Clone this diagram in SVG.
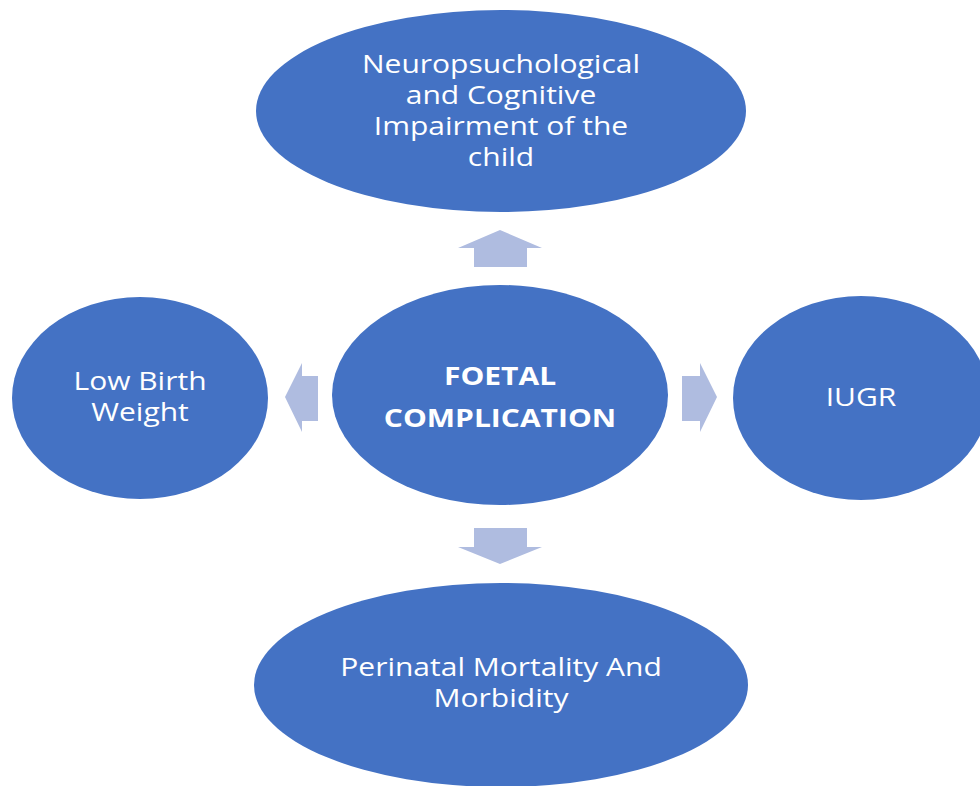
<svg xmlns="http://www.w3.org/2000/svg" width="980" height="786" viewBox="0 0 980 786">
<style>
.node{fill:#4472C4;}
.arrow{fill:#AFBCE0;}
text{font-family:"Open Sans","Liberation Sans",sans-serif;fill:#FFFFFF;text-anchor:middle;font-size:25px;}
.b{font-weight:bold;}
</style>
<rect width="980" height="786" fill="#FFFFFF"/>
<g id="connectors">
<polygon class="arrow" points="500,230 542,248 527,248 527,267 474,267 474,248 458,248"/>
<polygon class="arrow" points="500,564 542,547 527,547 527,528 474,528 474,547 458,547"/>
<polygon class="arrow" points="285,397 302,363 302,376 318,376 318,421 302,421 302,432"/>
<polygon class="arrow" points="717,397 700,363 700,376 682,376 682,421 700,421 700,432"/>
</g>
<g id="node-top">
<ellipse class="node" cx="501" cy="111" rx="245" ry="101"/>
<g transform="translate(501 0) scale(1.2 1)">
<text x="0" y="73">Neuropsuchological</text>
<text x="0" y="104">and Cognitive</text>
<text x="0" y="135">Impairment of the</text>
<text x="0" y="166">child</text>
</g>
</g>
<g id="node-center">
<ellipse class="node" cx="500" cy="395" rx="168" ry="110"/>
<g transform="translate(500 0) scale(1.2 1)">
<text class="b" x="0" y="385">FOETAL</text>
<text class="b" x="0" y="427">COMPLICATION</text>
</g>
</g>
<g id="node-left">
<ellipse class="node" cx="140" cy="398" rx="128" ry="101"/>
<g transform="translate(140 0) scale(1.2 1)">
<text x="0" y="390">Low Birth</text>
<text x="0" y="421">Weight</text>
</g>
</g>
<g id="node-right">
<ellipse class="node" cx="861" cy="398" rx="128" ry="102"/>
<g transform="translate(861 0) scale(1.2 1)">
<text x="0" y="406">IUGR</text>
</g>
</g>
<g id="node-bottom">
<ellipse class="node" cx="501" cy="685" rx="247" ry="102"/>
<g transform="translate(501 0) scale(1.2 1)">
<text x="0" y="676">Perinatal Mortality And</text>
<text x="0" y="707">Morbidity</text>
</g>
</g>
</svg>
